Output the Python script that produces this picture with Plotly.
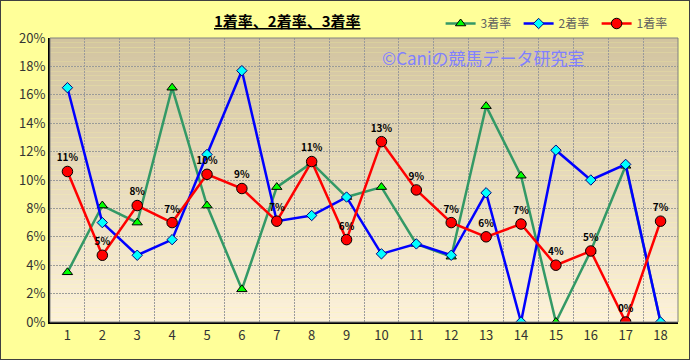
import plotly.graph_objects as go

categories = list(range(1, 19))
rate1 = [0.106, 0.047, 0.082, 0.070, 0.104, 0.094, 0.071, 0.113, 0.058, 0.127, 0.093, 0.070,
         0.060, 0.069, 0.040, 0.050, 0.000, 0.071]
rate2 = [0.165, 0.070, 0.047, 0.058, 0.118, 0.177, 0.071, 0.075, 0.088, 0.048, 0.055, 0.047,
         0.091, 0.000, 0.121, 0.100, 0.111, 0.000]
rate3 = [0.035, 0.082, 0.070, 0.165, 0.082, 0.023, 0.095, 0.112, 0.088, 0.095, 0.055, 0.046,
         0.152, 0.103, 0.000, 0.050, 0.110, 0.000]
yticks = [i / 100 for i in range(0, 21, 2)]

FONT = "Noto Sans CJK JP"

fig = go.Figure()

fig.add_trace(go.Scatter(
    x=categories, y=rate3, name="3着率", mode="lines+markers",
    line=dict(color="#339966", width=2.5),
    marker=dict(symbol="triangle-up", size=9, color="#00FF00", line=dict(color="#000000", width=1)),
))
fig.add_trace(go.Scatter(
    x=categories, y=rate2, name="2着率", mode="lines+markers",
    line=dict(color="#0000FF", width=2.5),
    marker=dict(symbol="diamond", size=8, color="#00FFFF", line=dict(color="#000080", width=1)),
))
fig.add_trace(go.Scatter(
    x=categories, y=rate1, name="1着率", mode="lines+markers+text",
    line=dict(color="#FF0000", width=2.5),
    marker=dict(symbol="circle", size=10.5, color="#FF0000", line=dict(color="#000000", width=1)),
    texttemplate="<b>%{y:.0%}</b>", textposition="top center",
    textfont=dict(family=FONT, size=10, color="#000000"),
))

# gradient background of plot area
shapes = []
n = 60
top = (0xD2, 0xC4, 0xA0)
bot = (0xFC, 0xF1, 0xDA)
for i in range(n):
    t = i / (n - 1)
    c = tuple(round(top[k] + (bot[k] - top[k]) * t) for k in range(3))
    shapes.append(dict(type="rect", xref="x domain", yref="y domain",
                       x0=0, x1=1, y0=1 - (i + 1) / n, y1=1 - i / n,
                       fillcolor="rgb(%d,%d,%d)" % c, line=dict(width=0), layer="below"))
# plot border (top/right gray)
shapes.append(dict(type="rect", xref="x domain", yref="y domain", x0=0, x1=1, y0=0, y1=1,
                   line=dict(color="#808080", width=1), fillcolor="rgba(0,0,0,0)", layer="above"))
# outer border
shapes.append(dict(type="rect", xref="paper", yref="paper", x0=-50 / 628, x1=1 + 12 / 628,
                   y0=-38 / 284, y1=1 + 38 / 284,
                   line=dict(color="#404040", width=2), fillcolor="rgba(0,0,0,0)"))

GRID = "#9a9a9a"

fig.update_layout(
    width=690, height=360,
    margin=dict(l=50, r=12, t=38, b=38, autoexpand=False),
    paper_bgcolor="#FFFF99",
    plot_bgcolor="rgba(0,0,0,0)",
    shapes=shapes,
    showlegend=True,
    legend=dict(orientation="h", x=0.622, y=0.975, yref="container", yanchor="top",
                xanchor="left", entrywidth=33, entrywidthmode="pixels",
                font=dict(family=FONT, size=12, color="#606060"),
                bgcolor="rgba(0,0,0,0)", itemwidth=30, tracegroupgap=0),
    font=dict(family=FONT, color="#333333"),
    annotations=[
        dict(text="<u><b>1着率、2着率、3着率</b></u>", xref="paper", yref="paper",
             x=(287 - 50) / 628, y=1 + (38 - 21) / 284, xanchor="center", yanchor="middle",
             showarrow=False, font=dict(family=FONT, size=15, color="#000000")),
        dict(text="©Caniの競馬データ研究室", xref="paper", yref="paper",
             x=(483 - 50) / 628, y=(321.5 - 57) / 283.5, xanchor="center", yanchor="middle",
             showarrow=False, font=dict(family=FONT, size=17, color="#8080FF")),
    ],
    xaxis=dict(range=[0.5, 18.5], tickvals=categories, ticktext=[str(c) for c in categories],
               showgrid=False, zeroline=False, showline=True, linecolor="#000000", linewidth=2,
               ticks="", tickfont=dict(family=FONT, size=13, color="#333333"),
               minor=dict(tickvals=[c + 0.5 for c in categories[:-1]], showgrid=True,
                          gridcolor=GRID, griddash="2px,1px", gridwidth=1, ticks="")),
    yaxis=dict(range=[0, 0.2], tickvals=yticks, tickformat=".0%",
               showgrid=True, gridcolor=GRID, griddash="2px,1px", gridwidth=1,
               zeroline=False, showline=True, linecolor="#000000", linewidth=2,
               ticks="", tickfont=dict(family=FONT, size=13, color="#333333")),
)

fig.write_html("out.html")
